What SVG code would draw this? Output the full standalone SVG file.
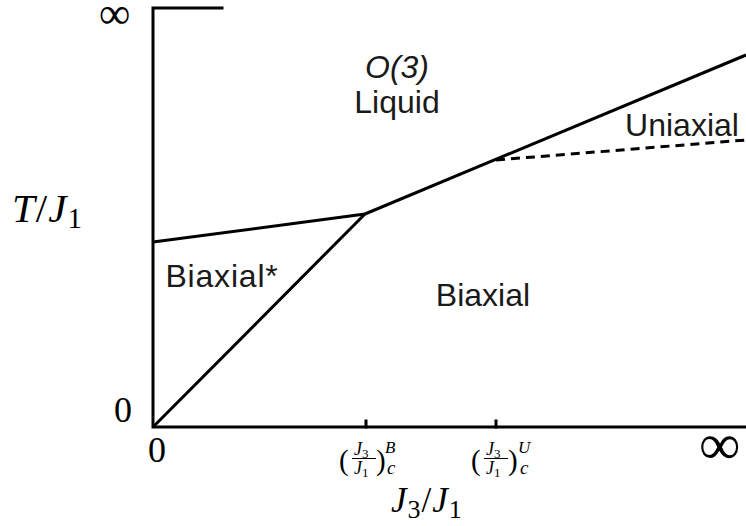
<svg xmlns="http://www.w3.org/2000/svg" width="746" height="526" viewBox="0 0 746 526">
<style>
.ax{stroke:#000;stroke-width:3;fill:none;stroke-linecap:square}
.ln{stroke:#000;stroke-width:3;fill:none}
.dash{stroke:#000;stroke-width:3;fill:none;stroke-dasharray:9,6}
.lab{font-family:"Liberation Sans",Arial,sans-serif;font-size:32px;fill:#1a1a1a;text-anchor:middle}
.m{font-family:"Liberation Serif","DejaVu Serif",serif;fill:#000}
.mi{font-family:"Liberation Serif","DejaVu Serif",serif;font-style:italic;fill:#000}
</style>
<rect width="746" height="526" fill="#fff"/>
<g id="axes">
<path class="ax" d="M222,8 H153 V427 H746"/>
<path class="ax" d="M366,427 V421 M496,427 V421"/>
</g>
<g id="connectors">
<path class="ln" d="M153,427 L365,214"/>
<path class="ln" d="M153,242 L365,214"/>
<path class="ln" d="M365,214 L746,55"/>
<path class="dash" d="M496,160 L746,140"/>
</g>
<g id="liquid">
<text class="lab" x="397" y="78" font-style="italic">O(3)</text>
<text class="lab" x="397" y="113">Liquid</text>
</g>
<g id="uniaxial"><text class="lab" x="682" y="136">Uniaxial</text></g>
<g id="biaxial-star"><text class="lab" x="222" y="287" font-size="33" letter-spacing="0.8">Biaxial*</text></g>
<g id="biaxial"><text class="lab" x="483" y="306">Biaxial</text></g>
<g id="axis-labels">
<text class="m" x="99" y="28" font-size="44">∞</text>
<text class="m" x="699" y="464" font-size="58">∞</text>
<text class="m" x="114" y="422" font-size="36">0</text>
<text class="m" x="148" y="462" font-size="36">0</text>
<text class="mi" x="12" y="222" font-size="41" letter-spacing="1">T<tspan font-style="normal">/</tspan>J<tspan font-style="normal" font-size="29" dy="6">1</tspan></text>
<text class="mi" x="391" y="512" font-size="35" letter-spacing="1">J<tspan font-style="normal" font-size="26" dy="6">3</tspan><tspan font-style="normal" dy="-6">/</tspan>J<tspan font-style="normal" font-size="26" dy="6">1</tspan></text>
</g>
<g id="tick-B">
<text class="m" x="339" y="470" font-size="29">(</text>
<text class="mi" x="354" y="455" font-size="18">J<tspan font-style="normal" font-size="13" dy="3">3</tspan></text>
<line x1="352" y1="458.5" x2="376" y2="458.5" stroke="#000" stroke-width="1"/>
<text class="mi" x="354" y="474" font-size="18">J<tspan font-style="normal" font-size="13" dy="3">1</tspan></text>
<text class="m" x="376" y="470" font-size="29">)</text>
<text class="mi" x="385" y="453" font-size="17">B</text>
<text class="mi" x="387" y="474" font-size="19">c</text>
</g>
<g id="tick-U">
<text class="m" x="471" y="470" font-size="29">(</text>
<text class="mi" x="486" y="455" font-size="18">J<tspan font-style="normal" font-size="13" dy="3">3</tspan></text>
<line x1="484" y1="458.5" x2="508" y2="458.5" stroke="#000" stroke-width="1"/>
<text class="mi" x="486" y="474" font-size="18">J<tspan font-style="normal" font-size="13" dy="3">1</tspan></text>
<text class="m" x="508" y="470" font-size="29">)</text>
<text class="mi" x="518" y="453" font-size="17">U</text>
<text class="mi" x="520" y="474" font-size="19">c</text>
</g>
</svg>
